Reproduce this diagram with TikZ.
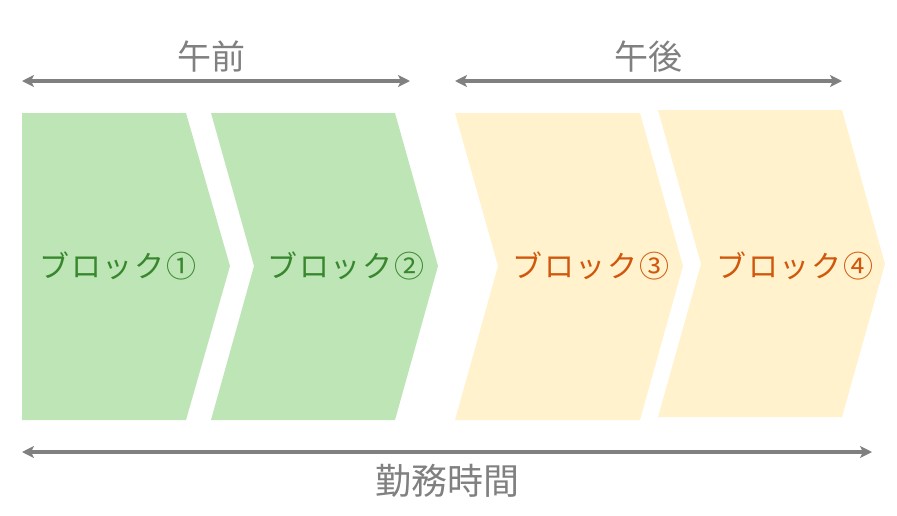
\documentclass[tikz,border=0pt]{standalone}
\usepackage{fontspec}
\setmainfont{Noto Sans CJK JP}
\newfontfamily\blockfont[LetterSpace=6]{Noto Sans CJK JP}
\usetikzlibrary{arrows.meta}
\definecolor{greenfill}{RGB}{189,229,182}
\definecolor{greentext}{RGB}{56,135,46}
\definecolor{yellowfill}{RGB}{255,242,204}
\definecolor{orangetext}{RGB}{208,87,12}
\definecolor{graytext}{RGB}{128,128,128}
\tikzset{
  blocklabel/.style={font=\blockfont\fontsize{30}{32}\selectfont, inner sep=0pt, anchor=center},
  headlabel/.style={font=\fontsize{34}{36}\selectfont, text=graytext, inner sep=0pt},
  spanarrow/.style={draw=graytext, line width=3.5pt, {Stealth[length=12pt,width=12pt,inset=3pt]}-{Stealth[length=12pt,width=12pt,inset=3pt]}},
}
\begin{document}
\begin{tikzpicture}[x=1pt,y=-1pt]
\useasboundingbox (0,0) rectangle (897,515);
% blocks
\fill[greenfill] (22,113) -- (186,113) -- (230,266) -- (186,420) -- (22,420) -- cycle;
\fill[greenfill] (211,113) -- (395,113) -- (438,266) -- (395,420) -- (211,420) -- (254,266) -- cycle;
\fill[yellowfill] (455,113) -- (640,113) -- (683,266) -- (640,420) -- (455,420) -- (498,266) -- cycle;
\fill[yellowfill] (658,110) -- (842,110) -- (885,264) -- (842,417) -- (658,417) -- (701,264) -- cycle;
% block labels
\node[blocklabel, text=greentext] (b1) at (118,266) {ブロック①};
\node[blocklabel, text=greentext] (b2) at (346,266) {ブロック②};
\node[blocklabel, text=orangetext] (b3) at (591,266) {ブロック③};
\node[blocklabel, text=orangetext] (b4) at (795,266) {ブロック④};
% span arrows
\coordinate (amL) at (22,81);
\coordinate (amR) at (410,81);
\coordinate (pmL) at (455,81);
\coordinate (pmR) at (842,81);
\coordinate (wL) at (22,452);
\coordinate (wR) at (872,452);
\draw[spanarrow] (amL) -- (amR);
\draw[spanarrow] (pmL) -- (pmR);
\draw[spanarrow] (wL) -- (wR);
\node[headlabel] (am) at (211,57) {午前};
\node[headlabel] (pm) at (648,57) {午後};
\node[headlabel, font=\fontsize{36}{38}\selectfont] (work) at (447,481) {勤務時間};
\end{tikzpicture}
\end{document}
